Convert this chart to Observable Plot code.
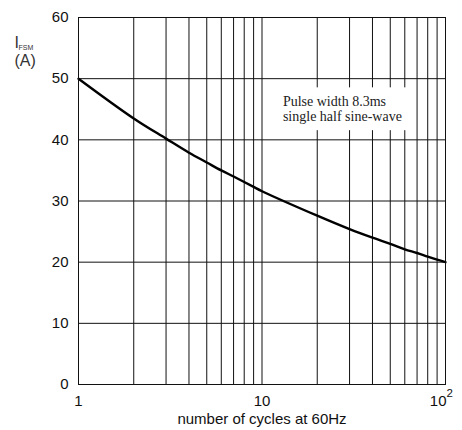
<!DOCTYPE html>
<html>
<head>
<meta charset="utf-8">
<script src="https://cdn.jsdelivr.net/npm/d3@7"></script>
<script src="https://cdn.jsdelivr.net/npm/@observablehq/plot@0.6"></script>
<style>
  html, body { margin: 0; padding: 0; background: #fff; }
  svg { display: block; }
</style>
</head>
<body>
<div id="chart"></div>
<script>
// Data
const cycles = [1, 2, 3, 4, 5, 6, 7, 8, 9, 10, 20, 30, 40, 50, 60, 70, 80, 90, 100];
const ifsm   = [50, 43.5, 40.2, 37.9, 36.3, 35.0, 34.0, 33.1, 32.3, 31.6, 27.6, 25.4, 24.0, 23.0, 22.1, 21.5, 20.9, 20.4, 20];
const xGrid  = [1, 2, 3, 4, 5, 6, 7, 8, 9, 10, 20, 30, 40, 50, 60, 70, 80, 90, 100];
const yGrid  = [0, 10, 20, 30, 40, 50, 60];
const xTicks = [1, 10];
const xTickLabels = ["1", "10"];
const xPowTick = {x: 100, base: "10", exp: "2"};
const yTicks = [0, 10, 20, 30, 40, 50, 60];
const noteLines = ["Pulse width 8.3ms", "single half sine-wave"];
const noteBox = {x1: 11, x2: 65, y1: 41.5, y2: 48.5, tx: 13, ty: 47.2};

const curve = cycles.map((c, i) => ({c, v: ifsm[i]}));
const sans = "Liberation Sans, Arial, sans-serif";

const chart = Plot.plot({
  width: 462,
  height: 430,
  marginLeft: 78,
  marginRight: 17,
  marginTop: 17,
  marginBottom: 46,
  style: {fontFamily: sans, fontSize: "15px", color: "#111", background: "#fff"},
  x: {type: "log", domain: [1, 100], axis: null},
  y: {domain: [0, 60]},
  marks: [
    Plot.ruleX(xGrid, {stroke: "#111", strokeWidth: 1}),
    Plot.ruleY(yGrid, {stroke: "#111", strokeWidth: 1}),
    Plot.rect([noteBox], {x1: "x1", x2: "x2", y1: "y1", y2: "y2", fill: "white"}),
    Plot.text([noteLines.join("\n")], {
      x: noteBox.tx, y: noteBox.ty, textAnchor: "start", lineAnchor: "top",
      fontFamily: "Liberation Serif, Times New Roman, serif", fontSize: 14, lineHeight: 1.05, fill: "#222"
    }),
    Plot.line(curve, {x: "c", y: "v", stroke: "#000", strokeWidth: 2.4, curve: "catmull-rom"}),
    Plot.frame({stroke: "#111", strokeWidth: 1}),
    Plot.axisY(yTicks, {tickSize: 0, tickPadding: 10, fontSize: 15, fill: "#111", label: null}),
    Plot.text(xTicks, {x: (d) => d, text: (d, i) => xTickLabels[i], frameAnchor: "bottom", lineAnchor: "top", dy: 11, fontSize: 15, fill: "#111"}),
    Plot.text([xPowTick], {x: "x", text: "base", frameAnchor: "bottom", lineAnchor: "top", textAnchor: "end", dx: 1, dy: 11, fontSize: 15, fill: "#111"}),
    Plot.text([xPowTick], {x: "x", text: "exp", frameAnchor: "bottom", lineAnchor: "top", textAnchor: "start", dx: 1, dy: 4, fontSize: 11.5, fill: "#111"}),
    Plot.text(["number of cycles at 60Hz"], {frameAnchor: "bottom", lineAnchor: "top", dy: 29, fontSize: 15, fill: "#111"}),
    Plot.text(["I"], {frameAnchor: "top-left", dx: -64, dy: 19, fontSize: 16, fill: "#333", textAnchor: "start"}),
    Plot.text(["FSM"], {frameAnchor: "top-left", dx: -60, dy: 28, fontSize: 7, fill: "#333", textAnchor: "start"}),
    Plot.text(["(A)"], {frameAnchor: "top-left", dx: -64, dy: 37, fontSize: 16, fill: "#333", textAnchor: "start"})
  ]
});
document.getElementById("chart").appendChild(chart);
</script>
</body>
</html>
